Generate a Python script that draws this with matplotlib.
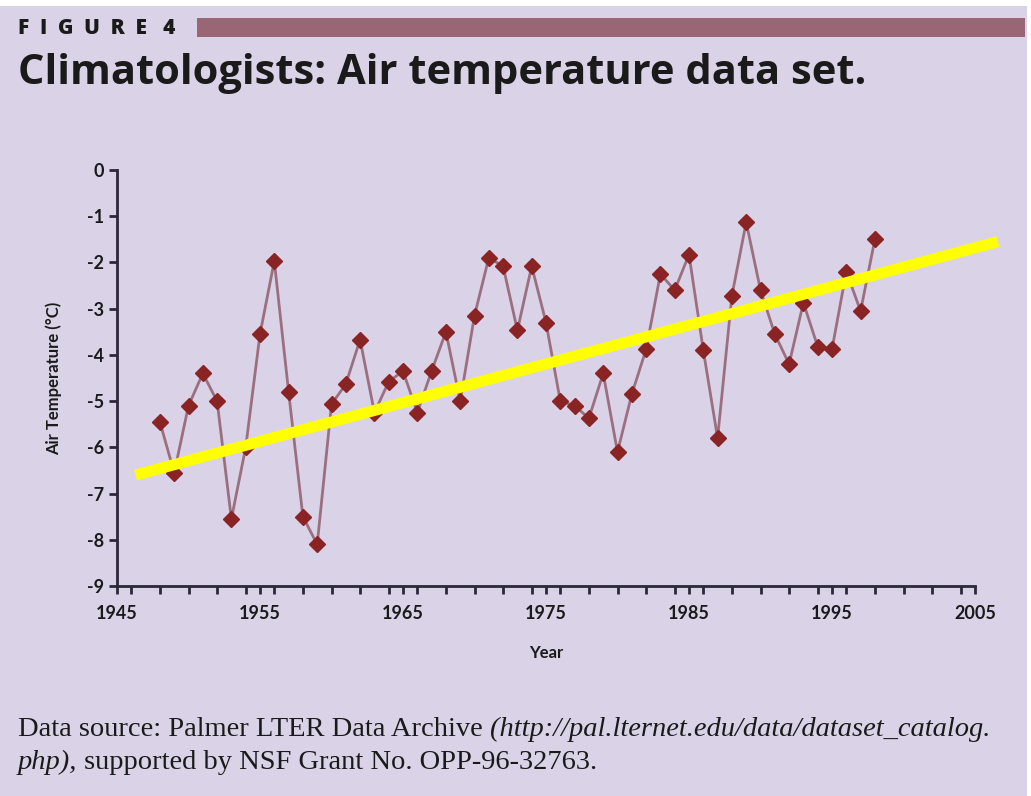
import numpy as np
import matplotlib
matplotlib.use("Agg")
import matplotlib.pyplot as plt
from matplotlib.patches import Rectangle
from matplotlib.ticker import MultipleLocator, FixedLocator

# data
years = list(range(1948, 1999))
temps = [-5.45, -6.55, -5.1, -4.4, -5.0, -7.55, -6.0, -3.55, -1.97, -4.8,
         -7.5, -8.1, -5.07, -4.63, -3.67, -5.25, -4.58, -4.35, -5.25, -4.35,
         -3.5, -5.0, -3.15, -1.9, -2.08, -3.47, -2.08, -3.3, -5.0, -5.1,
         -5.37, -4.4, -6.1, -4.85, -3.88, -2.25, -2.6, -1.83, -3.9, -5.8,
         -2.72, -1.13, -2.6, -3.55, -4.2, -2.87, -3.82, -3.88, -2.2, -3.05,
         -1.5]
trend_years = [1946.3, 2006.6]
trend_vals = [-6.6, -1.55]
xlabels = [1945, 1955, 1965, 1975, 1985, 1995, 2005]

plt.rcParams['axes.unicode_minus'] = False
bg = '#dad3e7'
axcol = '#2b2838'
txt = '#1a1a1a'

fig = plt.figure(figsize=(10.31, 7.96), dpi=100, facecolor='white')
fig.patches.append(Rectangle((0, 0), 0.996, 0.992, transform=fig.transFigure,
                             facecolor=bg, edgecolor='none', zorder=-10))
# header bar
fig.patches.append(Rectangle((197/1031, 1-37/796), 828/1031, 19/796,
                             transform=fig.transFigure, facecolor='#9a6676',
                             edgecolor='none'))
fig.text(18/1031, 1-29/796, 'F  I  G  U  R  E   4', fontsize=15,
         fontweight='heavy', family='Open Sans', va='center', ha='left',
         color=txt)
fig.text(18/1031, 1-74/796, 'Climatologists: Air temperature data set.',
         fontsize=30, fontweight='bold', family='Open Sans', va='center',
         ha='left', color=txt)

ax = fig.add_axes([117/1031, 1-586/796, (975-117)/1031, (586-170)/796])
ax.set_facecolor(bg)
ax.plot(years, temps, color='#9b6f80', lw=2, marker='D', ms=8,
        mfc='#8a2424', mec='#8a2424', zorder=3)
ax.plot(trend_years, trend_vals, color='#ffff00', lw=8, solid_capstyle='butt',
        zorder=4, clip_on=False)

ax.set_xlim(1945, 2005)
ax.set_ylim(-9, 0)
ax.xaxis.set_major_locator(FixedLocator(xlabels))
ax.xaxis.set_minor_locator(MultipleLocator(2))
ax.yaxis.set_major_locator(MultipleLocator(1))
for s in ['top', 'right']:
    ax.spines[s].set_visible(False)
for s in ['left', 'bottom']:
    ax.spines[s].set_color(axcol)
    ax.spines[s].set_linewidth(2)
ax.tick_params(which='both', direction='out', length=6, width=2, color=axcol,
               labelsize=13, labelcolor=txt)
ax.tick_params(axis='x', pad=8)
for lab in ax.get_xticklabels() + ax.get_yticklabels():
    lab.set_fontweight('bold')
    lab.set_family('Lato')
ax.set_xlabel('Year', fontsize=12, fontweight='bold', family='Lato',
              labelpad=16, color=txt)
ax.set_ylabel('Air Temperature (°C)', fontsize=12, family='Lato',
              fontweight='bold', labelpad=18, color=txt)

# source note, mixed roman / italic
fs = 20.5
t1 = fig.text(18/1031, 1-736/796, 'Data source: Palmer LTER Data Archive ',
              fontsize=fs, family='Liberation Serif', color=txt)
plt.annotate('(http://pal.lternet.edu/data/dataset_catalog.', xy=(1, 0),
             xycoords=t1, va='bottom', fontsize=fs, family='Liberation Serif',
             style='italic', color=txt)
t3 = fig.text(18/1031, 1-769/796, 'php),', fontsize=fs,
              family='Liberation Serif', style='italic', color=txt)
plt.annotate(' supported by NSF Grant No. OPP-96-32763.', xy=(1, 0),
             xycoords=t3, va='bottom', fontsize=fs, family='Liberation Serif',
             color=txt)

fig.savefig('out.png', dpi=100, facecolor='white')
